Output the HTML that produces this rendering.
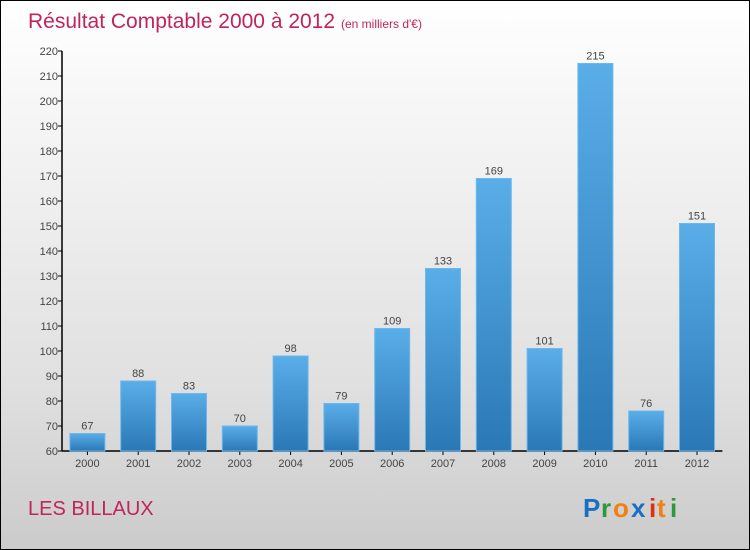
<!DOCTYPE html>
<html><head><meta charset="utf-8"><style>
body{margin:0;}
#wrap{width:748px;height:548px;border:1px solid #000;position:relative;background:linear-gradient(#fff,#f6f6f6 20%,#e0e0e0 70%,#cbcbcb);font-family:"Liberation Sans",sans-serif;overflow:hidden;}
svg{position:absolute;left:0;top:0;}
</style></head><body>
<div id="wrap">
<svg id="c" width="750" height="550">
<defs>
<linearGradient id="bg" x1="0" y1="0" x2="0" y2="1"><stop offset="0" stop-color="#5aaee8"/><stop offset="1" stop-color="#2a78b6"/></linearGradient>
</defs>
<text x="27" y="27" font-size="21" fill="#c0245c">Résultat Comptable 2000 à 2012</text>
<text x="340" y="27" font-size="12" fill="#c0245c">(en milliers d'€)</text>
<text x="27" y="514" font-size="20" fill="#c0245c">LES BILLAUX</text>
<g font-size="26" font-weight="bold" font-family="Liberation Sans, sans-serif">
<text x="582" y="516" fill="#1a6fc4">P</text><text x="600" y="516" fill="#2a9a3a">r</text><text x="612" y="516" fill="#f08010">o</text><text x="630" y="516" fill="#1a6fc4">x</text><text x="648" y="516" fill="#e03010">i</text><text x="656" y="516" fill="#f08010">t</text><text x="669" y="516" fill="#2a9a3a">i</text>
</g>
<g id="axes"></g>
<g id="bars"></g>
</svg>
</div>
<script>
const categories=["2000","2001","2002","2003","2004","2005","2006","2007","2008","2009","2010","2011","2012"];
const values=[67,88,83,70,98,79,109,133,169,101,215,76,151];
const ticks=[60,70,80,90,100,110,120,130,140,150,160,170,180,190,200,210,220];
const NS="http://www.w3.org/2000/svg";
const x0=61,step=50.8,y0=450,yMin=60,yMax=220,ppu=400/(yMax-yMin);
const y=v=>y0-(v-yMin)*ppu;
const xc=i=>x0+step*(i+0.5);
function mk(t,a){const e=document.createElementNS(NS,t);for(const k in a)e.setAttribute(k,a[k]);return e;}
const ax=document.getElementById('axes'),bs=document.getElementById('bars');
let l=mk('line',{x1:x0,y1:y(yMax),x2:x0,y2:y0,stroke:'#000','stroke-width':1.5});


ax.appendChild(l);
l=mk('line',{x1:x0,y1:y0,x2:x0+step*categories.length,y2:y0,stroke:'#000','stroke-width':1.5});


ax.appendChild(l);
ticks.forEach(t=>{
 const tk=mk('line',{x1:x0-4,x2:x0,y1:y(t),y2:y(t),stroke:'#000'});
 
 
 ax.appendChild(tk);
 const tx=mk('text',{x:x0-4,y:y(t)+4,'font-size':11,fill:'#444','text-anchor':'end'});
 
 
 tx.textContent=t;ax.appendChild(tx);
});
categories.forEach((c,i)=>{
 const v=values[i],cx=xc(i);
 const r=mk('rect',{x:cx-17.5,y:y(v),width:35,height:y0-y(v),fill:'url(#bg)',stroke:'#6cb8ee','stroke-width':1});
 
 
 bs.appendChild(r);
 const vl=mk('text',{x:cx,y:y(v)-4,'font-size':11,fill:'#444','text-anchor':'middle'});
 
 
 vl.textContent=v;bs.appendChild(vl);
 const tk=mk('line',{x1:cx,x2:cx,y1:y0,y2:y0+4,stroke:'#000'});
 
 
 ax.appendChild(tk);
 const xl=mk('text',{x:cx,y:y0+16,'font-size':11,fill:'#444','text-anchor':'middle'});
 
 
 xl.textContent=c;ax.appendChild(xl);
});
</script>
</body></html>
